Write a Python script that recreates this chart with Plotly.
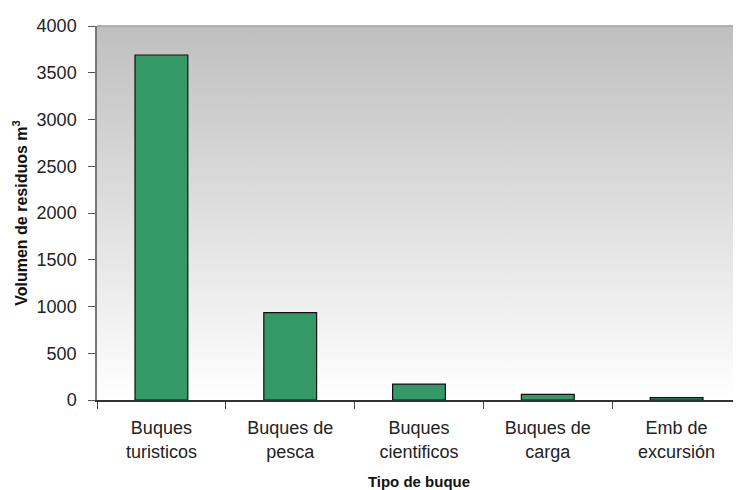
import plotly.graph_objects as go

categories = ["Buques<br>turisticos", "Buques de<br>pesca", "Buques<br>cientificos",
              "Buques de<br>carga", "Emb de<br>excursión"]
volumes = [3690, 935, 170, 60, 25]
y_ticks = [0, 500, 1000, 1500, 2000, 2500, 3000, 3500, 4000]

grad_svg = ("data:image/svg+xml;utf8,"
            "<svg xmlns='http://www.w3.org/2000/svg' width='100' height='100' preserveAspectRatio='none'>"
            "<defs><linearGradient id='g' x1='0' y1='0' x2='0' y2='1'>"
            "<stop offset='0' stop-color='%23bfbfbf'/><stop offset='1' stop-color='%23ffffff'/>"
            "</linearGradient></defs><rect width='100' height='100' fill='url(%23g)'/></svg>")

fig = go.Figure(go.Bar(
    x=categories, y=volumes,
    marker=dict(color="#339966", line=dict(color="#111111", width=1.2)),
))

font_family = "Liberation Sans, Arial, sans-serif"

fig.update_layout(
    width=741, height=490,
    margin=dict(l=89, r=8, t=16, b=98),
    paper_bgcolor="white",
    plot_bgcolor="rgba(0,0,0,0)",
    bargap=0.59,
    showlegend=False,
    font=dict(family=font_family, color="#111111", size=18),
    images=[dict(source=grad_svg, xref="paper", yref="paper", x=0, y=1,
                 sizex=1, sizey=1, sizing="stretch", layer="below")],
    shapes=[dict(type="line", xref="paper", yref="paper", x0=0, x1=1, y0=1, y1=1,
                 line=dict(color="#a0a0a0", width=1.5))],
    xaxis=dict(
        type="category",
        tickson="boundaries",
        ticks="outside", ticklen=7, tickcolor="#444444", tickwidth=1,
        showline=True, linecolor="#333333", linewidth=1.5,
        showgrid=False,
        tickfont=dict(size=18, color="#222222"),
        ticklabelstandoff=11,
        title=dict(text="<b>Tipo de buque</b>", font=dict(size=15, color="#111111"), standoff=16),
    ),
    yaxis=dict(
        range=[0, 4000],
        tickvals=y_ticks,
        ticks="outside", ticklen=7, tickcolor="#555555", tickwidth=1,
        showline=True, linecolor="#777777", linewidth=1.5,
        showgrid=False, zeroline=False,
        tickfont=dict(size=18, color="#222222"),
        ticklabelstandoff=8,
        title=dict(text="<b>Volumen de residuos m<sup>3</sup></b>", font=dict(size=16, color="#111111"), standoff=5),
    ),
)

fig.write_html("out.html")
